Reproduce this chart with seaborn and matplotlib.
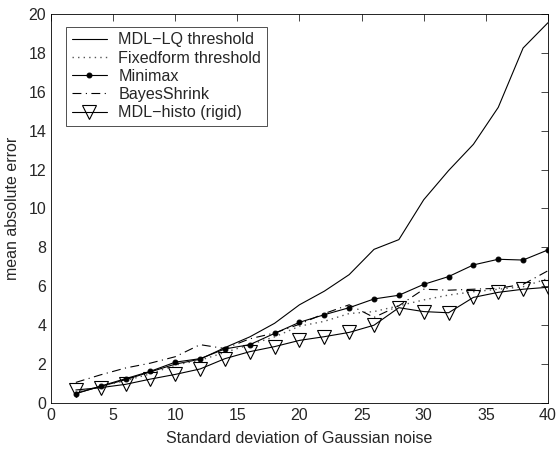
import numpy as np
import pandas as pd
import seaborn as sns
import matplotlib.pyplot as plt

# noise levels (std dev)
sigma = [2, 4, 6, 8, 10, 12, 14, 16, 18, 20, 22, 24, 26, 28, 30, 32, 34, 36, 38, 40]

mdl_lq = [0.5, 0.85, 1.2, 1.6, 2.0, 2.25, 2.85, 3.4, 4.1, 5.05, 5.75, 6.6, 7.9, 8.4,
          10.45, 11.95, 13.3, 15.2, 18.25, 19.55]
fixedform = [0.55, 0.85, 1.15, 1.5, 1.95, 2.2, 2.6, 3.0, 3.4, 3.95, 4.2, 4.6, 4.7, 5.0,
             5.3, 5.55, 5.72, 5.85, 5.98, 6.4]
minimax = [0.48, 0.87, 1.25, 1.63, 2.1, 2.28, 2.78, 3.0, 3.58, 4.15, 4.54, 4.9, 5.35, 5.54,
           6.1, 6.5, 7.1, 7.39, 7.35, 7.87]
bayes = [1.06, 1.45, 1.8, 2.05, 2.38, 3.0, 2.8, 3.3, 3.6, 4.05, 4.6, 5.05, 4.4, 5.0,
         5.85, 5.8, 5.85, 5.9, 6.1, 6.8]
mdl_histo = [0.67, 0.79, 0.96, 1.23, 1.47, 1.75, 2.28, 2.64, 2.9, 3.22, 3.41, 3.63, 4.0, 4.9,
             4.7, 4.64, 5.43, 5.69, 5.85, 5.95]

sns.set_style("white")
plt.rcParams['font.family'] = ['Liberation Sans', 'DejaVu Sans']

fig = plt.figure(figsize=(5.58, 4.51), dpi=100)
ax = fig.add_axes([0.0914, 0.1064, 0.8906, 0.8626])

sns.lineplot(x=sigma, y=mdl_lq, ax=ax, color='black', lw=0.8, label='MDL\u2212LQ threshold')
sns.lineplot(x=sigma, y=fixedform, ax=ax, color='#555555', lw=1.0, linestyle=(0, (1, 3)),
             label='Fixedform threshold')
sns.lineplot(x=sigma, y=minimax, ax=ax, color='black', lw=0.8, marker='o', markersize=3.5,
             markeredgecolor='black', label='Minimax')
sns.lineplot(x=sigma, y=bayes, ax=ax, color='black', lw=0.8, linestyle=(0, (8, 4, 1, 4)),
             label='BayesShrink')
sns.lineplot(x=sigma, y=mdl_histo, ax=ax, color='black', lw=0.8, marker='v', markersize=10,
             markerfacecolor='none', markeredgecolor='black', markeredgewidth=0.8,
             label='MDL\u2212histo (rigid)')

ax.set_xlim(0, 40)
ax.set_ylim(0, 20)
ax.set_xticks(range(0, 41, 5))
ax.set_yticks(range(0, 21, 2))
ax.tick_params(direction='in', top=True, right=True, length=5, labelsize=11.5, width=0.6)
for s in ax.spines.values():
    s.set_color('black')
    s.set_linewidth(0.6)
ax.set_xlabel('Standard deviation of Gaussian noise', fontsize=11.5, labelpad=6)
ax.set_ylabel('mean absolute error', fontsize=11.5, labelpad=6)

leg = ax.legend(loc='upper left', bbox_to_anchor=(0.03, 0.967), fontsize=11.6, frameon=True,
                fancybox=False, edgecolor='black', handlelength=2.2, borderpad=0.35,
                labelspacing=0.2, borderaxespad=0, numpoints=1, handletextpad=0.7)
leg.get_frame().set_linewidth(0.6)

fig.savefig('out.png', dpi=100)
